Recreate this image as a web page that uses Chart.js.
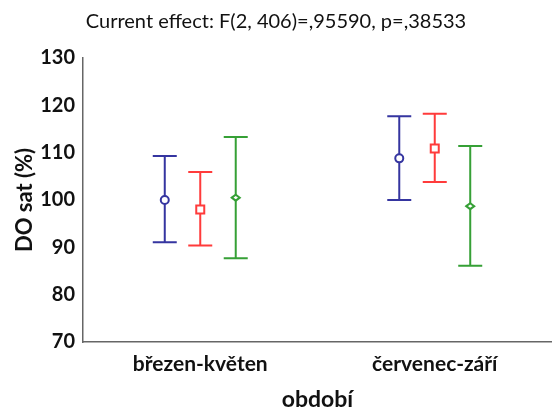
<!DOCTYPE html>
<html>
<head>
<meta charset="utf-8">
<script src="https://cdn.jsdelivr.net/npm/chart.js@4"></script>
<style>
  body { margin: 0; background: #fff; }
  #chart { display: block; }
</style>
</head>
<body>
<canvas id="chart" width="552" height="408"></canvas>
<script>
const categories = ['březen-květen', 'červenec-září'];
const seriesNames = ['skupina 1', 'skupina 2', 'skupina 3'];
const seriesColors = ['#3535a0', '#ff3b3b', '#36a036'];
const seriesMarkers = ['circle', 'rect', 'rectRot'];

// mean and error bar ends, one array per series
const meanBlue = [100.0, 108.8];
const meanRed = [98.0, 110.9];
const meanGreen = [100.5, 98.7];
const upperBlue = [109.3, 117.7];
const upperRed = [105.9, 118.2];
const upperGreen = [113.3, 111.4];
const lowerBlue = [91.1, 100.0];
const lowerRed = [90.4, 103.8];
const lowerGreen = [87.7, 86.1];

const yTicks = [70, 80, 90, 100, 110, 120, 130];
const titleText = 'Current effect: F(2, 406)=,95590, p=,38533';

const means = [meanBlue, meanRed, meanGreen];
const uppers = [upperBlue, upperRed, upperGreen];
const lowers = [lowerBlue, lowerRed, lowerGreen];

const errorBars = {
    id: 'errorBars',
    afterDatasetsDraw(chart) {
        const ctx = chart.ctx;
        const y = chart.scales.y;
        chart.data.datasets.forEach((ds, i) => {
            const meta = chart.getDatasetMeta(i);
            meta.data.forEach((bar, j) => {
                const x = bar.x;
                const yTop = y.getPixelForValue(uppers[i][j]);
                const yBot = y.getPixelForValue(lowers[i][j]);
                const yMid = y.getPixelForValue(means[i][j]);
                ctx.save();
                ctx.strokeStyle = seriesColors[i];
                ctx.lineWidth = 2;
                ctx.beginPath();
                ctx.moveTo(x, yTop); ctx.lineTo(x, yBot);
                ctx.moveTo(x - 12, yTop); ctx.lineTo(x + 12, yTop);
                ctx.moveTo(x - 12, yBot); ctx.lineTo(x + 12, yBot);
                ctx.stroke();

                ctx.fillStyle = '#fff';
                ctx.beginPath();
                if (seriesMarkers[i] === 'circle') {
                    ctx.arc(x, yMid, 4, 0, Math.PI * 2);
                } else if (seriesMarkers[i] === 'rect') {
                    ctx.rect(x - 4, yMid - 4, 8, 8);
                } else {
                    ctx.moveTo(x - 4, yMid); ctx.lineTo(x, yMid - 3);
                    ctx.lineTo(x + 4, yMid); ctx.lineTo(x, yMid + 3);
                    ctx.closePath();
                }
                ctx.fill();
                ctx.stroke();
                ctx.restore();
            });
        });
    }
};

new Chart(document.getElementById('chart'), {
    type: 'bar',
    data: {
        labels: categories,
        datasets: means.map((m, i) => ({
            label: seriesNames[i],
            data: m,
            backgroundColor: 'rgba(0,0,0,0)',
            borderWidth: 0,
            categoryPercentage: 0.454,
            barPercentage: 1
        }))
    },
    options: {
        responsive: false,
        animation: false,
        layout: { padding: 0 },
        plugins: {
            legend: { display: false },
            tooltip: { enabled: false },
            title: {
                display: true,
                text: titleText,
                color: '#111',
                font: { family: 'Lato', size: 20, weight: 'normal', lineHeight: 1.2 },
                padding: { top: 10, bottom: 24 }
            }
        },
        scales: {
            x: {
                grid: { display: false, drawTicks: false },
                border: { display: true, color: '#666', width: 1.5 },
                ticks: {
                    color: '#111',
                    padding: 10,
                    font: { family: 'Lato', size: 21, weight: 'bold' }
                },
                title: {
                    display: true,
                    text: 'období',
                    color: '#111',
                    font: { family: 'Lato', size: 23, weight: 'bold', lineHeight: 1 },
                    padding: { top: 0, bottom: -3 }
                },
                afterFit(scale) { scale.height = 66; }
            },
            y: {
                min: 70,
                max: 130,
                afterBuildTicks(scale) { scale.ticks = yTicks.map(v => ({ value: v })); },
                grid: { display: false, drawTicks: false },
                border: { display: true, color: '#666', width: 1.5 },
                ticks: {
                    color: '#111',
                    padding: 8,
                    font: { family: 'Lato', size: 20, weight: 'bold' }
                },
                title: {
                    display: true,
                    text: 'DO sat (%)',
                    color: '#111',
                    font: { family: 'Lato', size: 22, weight: 'bold', lineHeight: 1.2 },
                    padding: { top: 12 }
                },
                afterFit(scale) { scale.width = 83; }
            }
        }
    },
    plugins: [errorBars]
});
</script>
</body>
</html>
